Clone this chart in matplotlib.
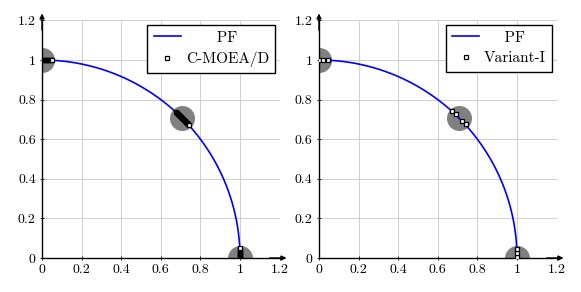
import matplotlib
matplotlib.use('Agg')
import matplotlib.pyplot as plt
import numpy as np

plt.rcParams['font.family'] = 'serif'
plt.rcParams['font.serif'] = ['cmr10', 'DejaVu Serif']
plt.rcParams['mathtext.fontset'] = 'cm'
plt.rcParams['axes.formatter.use_mathtext'] = True

ticks = [0, 0.2, 0.4, 0.6, 0.8, 1, 1.2]
tick_labels = ['0', '0.2', '0.4', '0.6', '0.8', '1', '1.2']

# reference points (grey discs)
ref_x = [0.0, 0.707, 1.0]
ref_y = [1.0, 0.707, 0.0]

# C-MOEA/D solutions
cmoead_x = [0.0, 0.005, 0.01, 0.015, 0.02, 0.025, 0.03, 0.035, 0.04, 0.045, 0.05,
            0.675, 0.68, 0.685, 0.69, 0.695, 0.70, 0.705, 0.71, 0.715, 0.72, 0.725, 0.73, 0.735, 0.742,
            1.0, 1.0, 1.0, 1.0, 1.0, 1.0, 1.0, 1.0, 1.0, 1.0, 1.0]
cmoead_y = [1.0, 1.0, 1.0, 1.0, 1.0, 1.0, 1.0, 1.0, 1.0, 1.0, 1.0,
            0.738, 0.733, 0.729, 0.724, 0.719, 0.714, 0.709, 0.704, 0.699, 0.694, 0.689, 0.683, 0.678, 0.672,
            0.0, 0.005, 0.01, 0.015, 0.02, 0.025, 0.03, 0.035, 0.04, 0.045, 0.05]

# Variant-I solutions
variant_x = [0.0, 0.02, 0.045, 0.670, 0.690, 0.722, 0.740, 1.0, 1.0, 1.0, 1.0]
variant_y = [1.0, 1.0, 1.0, 0.744, 0.727, 0.693, 0.675, 0.0, 0.007, 0.027, 0.044]

# Pareto front: quarter of the unit circle
theta = np.linspace(0, np.pi / 2, 200)
pf_x = np.cos(theta)
pf_y = np.sin(theta)


def draw_panel(ax, sx, sy, label, pf_pad):
    ax.plot(ref_x, ref_y, 'o', color='#808080', markersize=17, zorder=2, clip_on=True)
    # leading spaces roughly centre "PF" over the longer label, like pgfplots
    ax.plot(pf_x, pf_y, color='blue', linewidth=1.2, label=' ' * pf_pad + 'PF', zorder=3)
    ax.plot(sx, sy, 's', markersize=3, markerfacecolor='white',
            markeredgecolor='black', markeredgewidth=0.9, linestyle='none', label=label, zorder=4)
    ax.set_xlim(0, 1.2)
    ax.set_ylim(0, 1.2)
    ax.set_xticks(ticks)
    ax.set_yticks(ticks)
    ax.set_xticklabels(tick_labels)
    ax.set_yticklabels(tick_labels)
    ax.tick_params(labelsize=10, length=3, width=0.6, direction='inout', pad=3)
    ax.grid(True, color='#c8c8c8', linewidth=0.6)
    ax.spines['top'].set_visible(False)
    ax.spines['right'].set_visible(False)
    ax.spines['left'].set_linewidth(1.0)
    ax.spines['bottom'].set_linewidth(1.0)
    ax.annotate('', xy=(1.235, 0), xytext=(1.15, 0), annotation_clip=False,
                arrowprops=dict(arrowstyle='-|>', color='black', lw=1.0, mutation_scale=7, shrinkA=0, shrinkB=0))
    ax.annotate('', xy=(0, 1.235), xytext=(0, 1.15), annotation_clip=False,
                arrowprops=dict(arrowstyle='-|>', color='black', lw=1.0, mutation_scale=7, shrinkA=0, shrinkB=0))
    leg = ax.legend(loc='upper right', fontsize=11, fancybox=False, framealpha=1,
                    edgecolor='black', handlelength=1.8, handletextpad=0.3,
                    borderaxespad=0.3, labelspacing=0.45, borderpad=0.4)
    leg.get_frame().set_linewidth(1.0)


fig = plt.figure(figsize=(5.81, 2.92), dpi=100)
ax1 = fig.add_axes([0.0723, 0.1164, 0.409, 0.8137])
ax2 = fig.add_axes([0.549, 0.1164, 0.409, 0.8137])
draw_panel(ax1, cmoead_x, cmoead_y, 'C-MOEA/D', 6)
draw_panel(ax2, variant_x, variant_y, 'Variant-I', 4)
fig.savefig('out.png', dpi=100)
